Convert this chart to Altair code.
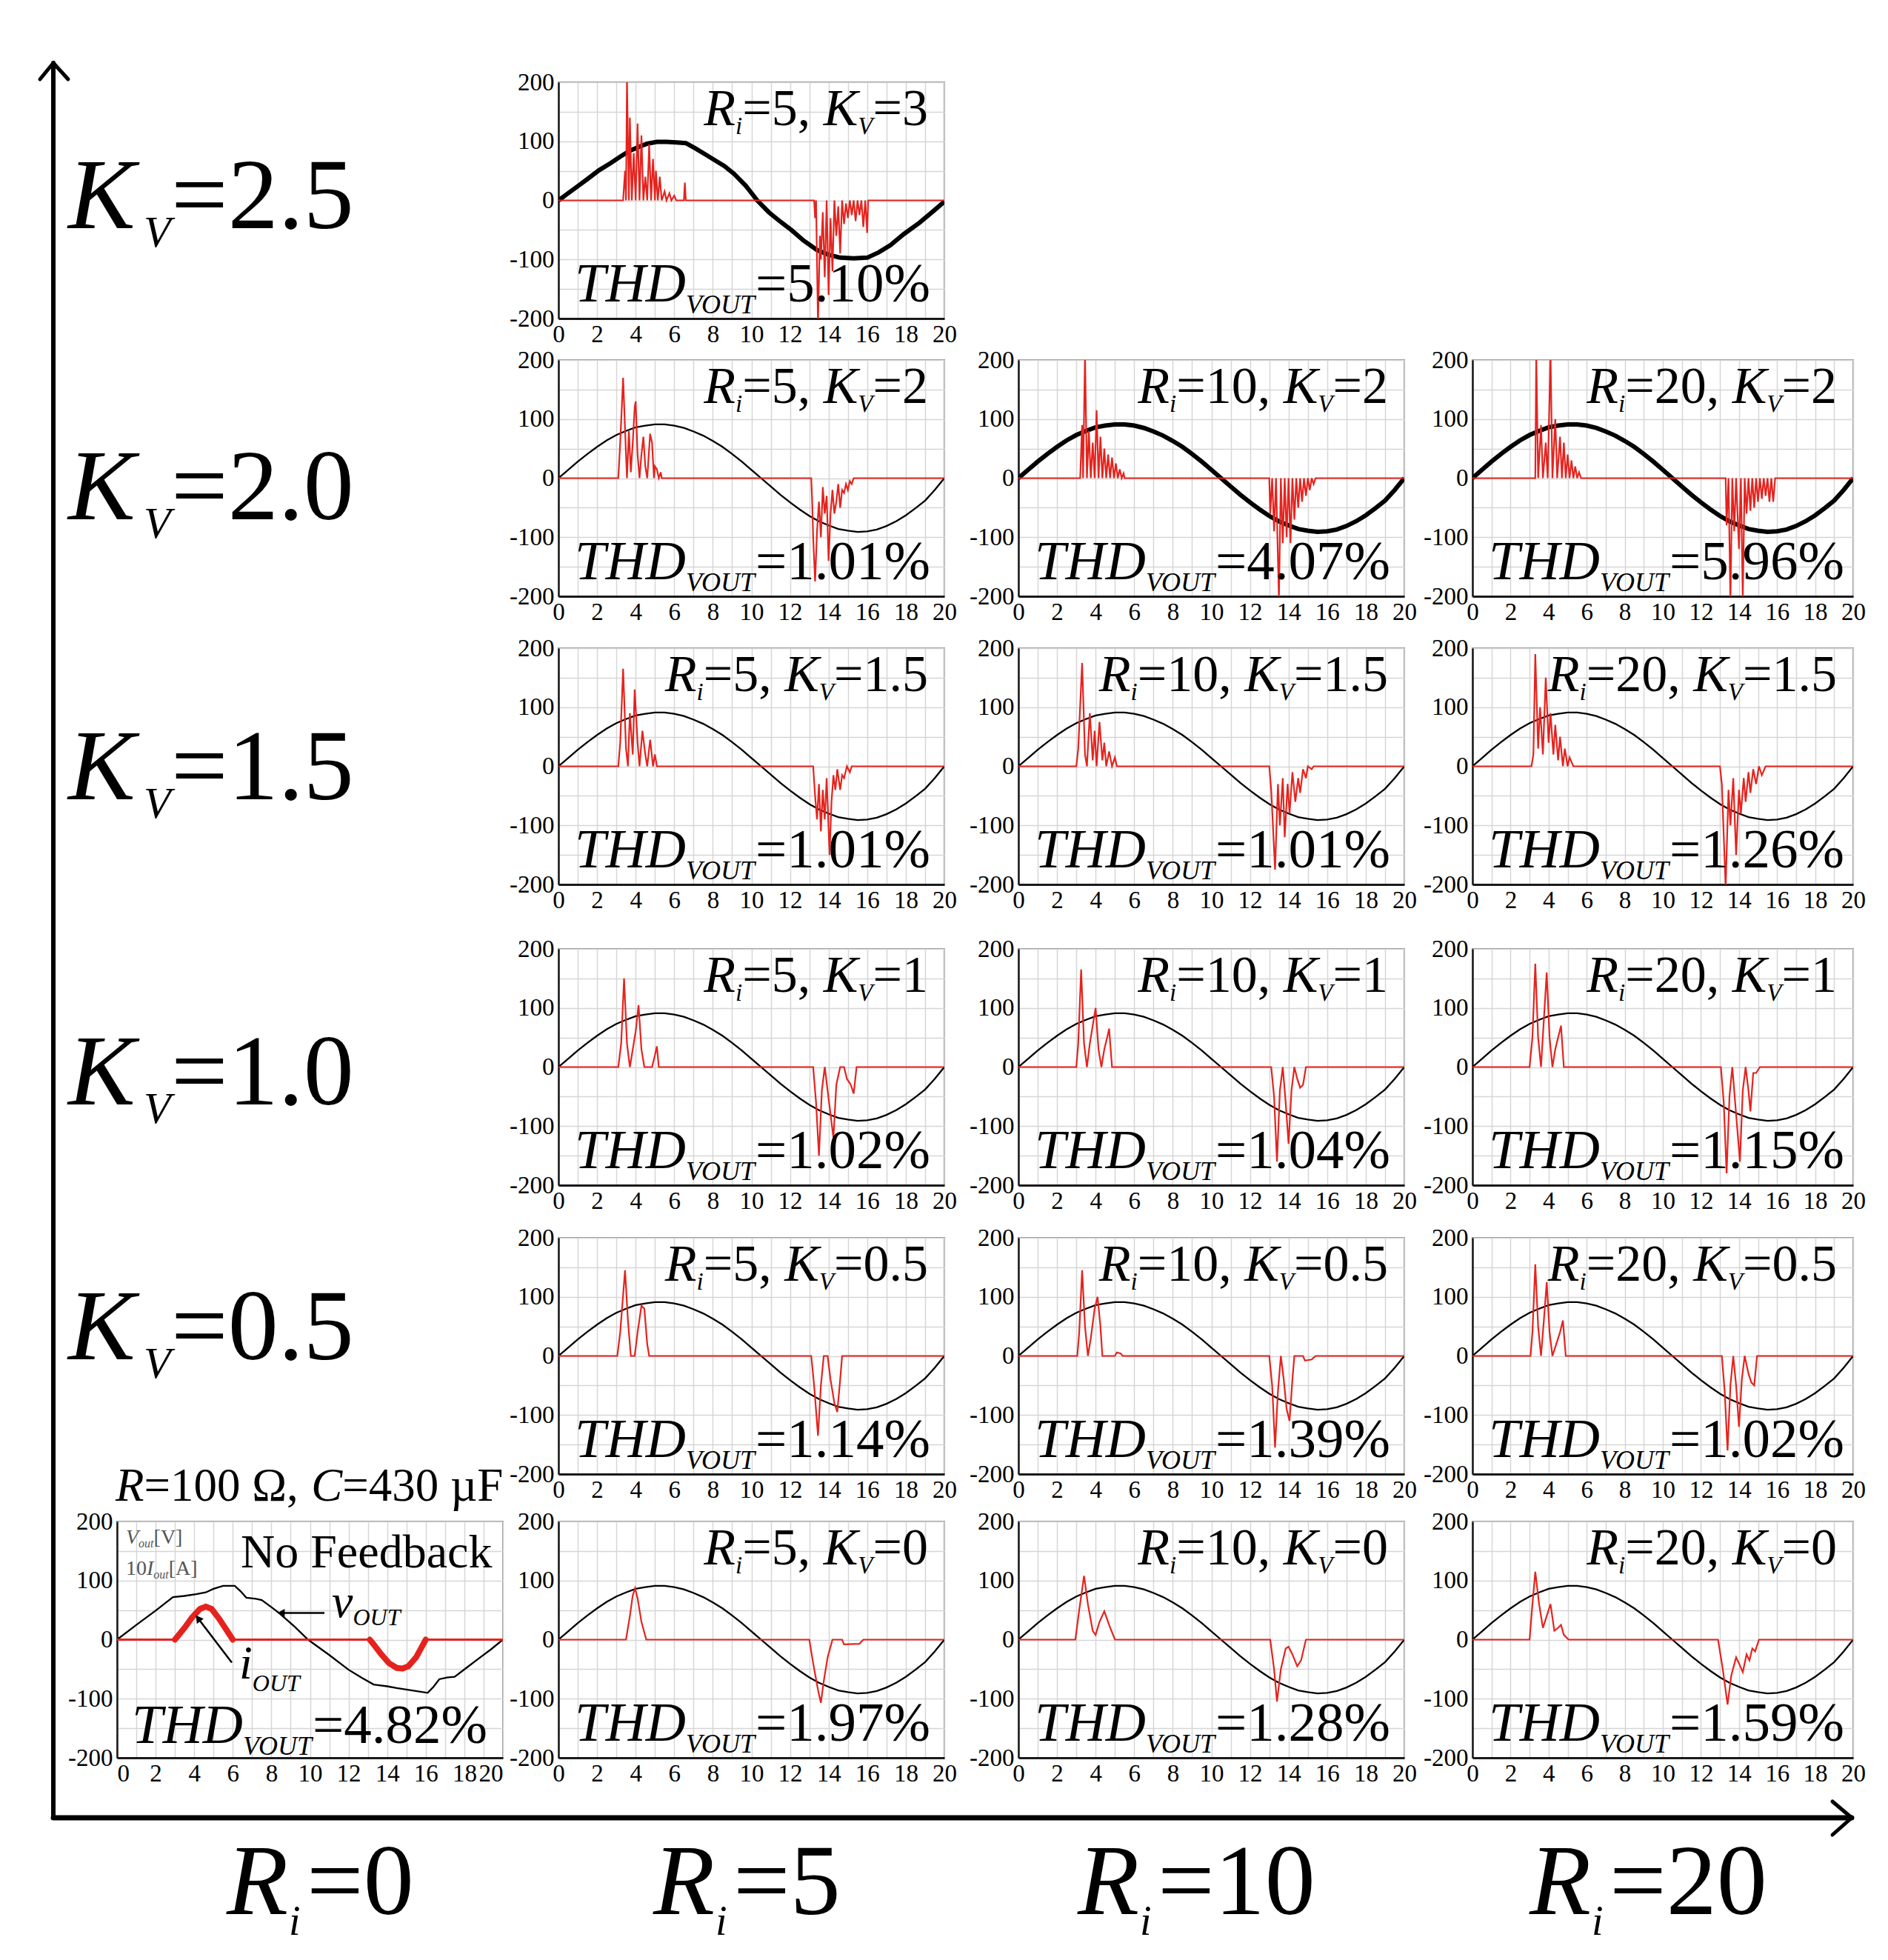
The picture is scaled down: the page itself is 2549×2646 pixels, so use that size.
import altair as alt
import pandas as pd

FONT = "Liberation Serif"
RED = "#e5231e"

# ---------------- data ----------------
T_GRID = [0, 0.5, 1, 1.5, 2, 2.5, 3, 3.5, 4, 4.5, 5, 5.5, 6, 6.5, 7, 7.5, 8, 8.5, 9, 9.5, 10,
          10.5, 11, 11.5, 12, 12.5, 13, 13.5, 14, 14.5, 15, 15.5, 16, 16.5, 17, 17.5, 18, 18.5,
          19, 19.5, 20]
VOUT_CLEAN = [0, 14, 28, 41, 53, 64, 73, 80, 86, 89, 91, 91, 89, 85, 79, 72, 63, 53, 41, 28, 14,
              0, -14, -28, -41, -53, -64, -73, -80, -86, -89, -91, -90, -87, -81, -73, -63, -51,
              -38, -20, 0]

VOUT_KV3 = [(0, 0), (0.5, 12), (1, 24), (1.5, 36), (2.1, 51), (2.7, 63), (3.2, 74), (3.7, 84),
            (4.2, 91), (4.6, 96), (5.1, 99), (5.6, 99), (6.1, 98), (6.6, 97), (7.1, 88), (7.6, 78),
            (8.1, 68), (8.6, 58), (9.1, 45), (9.7, 25), (10.3, 0), (10.9, -20), (11.5, -36),
            (12.1, -51), (12.7, -68), (13.4, -84), (14.0, -92), (14.6, -97), (15.3, -98),
            (16.0, -97), (16.6, -88), (17.2, -76), (17.9, -57), (18.7, -38), (19.4, -19), (20, -2)]

VOUT_NOFB = [(0, 0), (1, 25), (2, 49), (2.9, 72), (3.5, 74), (4.1, 77), (4.6, 80), (5.0, 86),
             (5.5, 91), (6.1, 91), (6.4, 82), (6.7, 71), (7.2, 69), (7.5, 67), (8.0, 55), (8.4, 45),
             (9.2, 22), (9.9, 0), (11.0, -26), (12.0, -51), (12.7, -65), (13.3, -76), (14.0, -79),
             (14.5, -82), (15.3, -86), (16.1, -90), (16.4, -80), (16.7, -67), (17.1, -64),
             (17.5, -63), (18.1, -48), (18.7, -33), (19.4, -16), (20, 0)]

IOUT_NOFB = [(0, 0), (3.0, 0), (3.2, 8), (3.5, 20), (3.9, 38), (4.3, 52), (4.6, 56), (4.9, 52),
             (5.3, 35), (5.7, 15), (6.0, 0), (13.1, 0), (13.3, -8), (13.7, -25), (14.1, -40),
             (14.5, -48), (14.8, -49), (15.1, -45), (15.5, -30), (15.8, -12), (16.0, 0), (20, 0)]

IOUT_R5_K3 = [(0, 0), (3.35, 0), (3.45, 50), (3.5, 0), (3.55, 205), (3.65, 0), (3.7, 140), (3.8, 0),
              (3.9, 80), (4.0, 0), (4.1, 130), (4.2, 0), (4.3, 110), (4.4, 0), (4.5, 40), (4.6, 0),
              (4.7, 95), (4.8, 0), (4.9, 70), (5.0, 0), (5.05, 50), (5.15, 0), (5.25, 40), (5.35, 0),
              (5.5, 15), (5.6, 0), (5.75, 12), (5.85, 0), (6.0, 8), (6.1, 0), (6.5, 0), (6.55, 30),
              (6.6, 0), (13.25, 0), (13.3, -30), (13.35, 0), (13.45, -210), (13.55, -60),
              (13.6, -100), (13.7, -20), (13.8, -130), (13.9, 0), (14.0, -160), (14.1, -30),
              (14.2, -120), (14.3, 0), (14.4, -60), (14.5, -10), (14.6, -90), (14.7, 0), (14.8, -40),
              (14.9, -5), (15.0, -30), (15.1, 0), (15.2, -25), (15.3, 0), (15.4, -35), (15.5, 0),
              (15.6, -25), (15.7, 0), (15.8, -45), (15.9, 0), (16.0, -55), (16.05, 0), (20, 0)]
IOUT_R5_K2 = [(0, 0), (3.1, 0), (3.2, 60), (3.35, 170), (3.5, 40), (3.55, 0), (3.65, 80), (3.75, 10),
              (3.85, 60), (3.95, 120), (4.0, 130), (4.1, 40), (4.2, 0), (4.3, 40), (4.4, 70),
              (4.5, 20), (4.6, 0), (4.7, 50), (4.75, 75), (4.85, 60), (4.95, 0), (5.0, 20),
              (5.1, 15), (5.2, 0), (5.3, 10), (5.35, 0), (13.1, 0), (13.15, -40), (13.2, -100),
              (13.3, -175), (13.4, -90), (13.5, -40), (13.6, -100), (13.7, -15), (13.8, -60),
              (13.9, -30), (14.0, -140), (14.1, -60), (14.2, -20), (14.3, -60), (14.4, -40),
              (14.5, -10), (14.6, -50), (14.7, -20), (14.8, -25), (14.9, -10), (15.0, -20),
              (15.1, -5), (15.2, -10), (15.3, 0), (20, 0)]
IOUT_R10_K2 = [(0, 0), (3.2, 0), (3.3, 90), (3.35, 0), (3.45, 210), (3.55, 0), (3.65, 80), (3.75, 0),
               (3.85, 60), (3.95, 0), (4.05, 115), (4.15, 0), (4.25, 70), (4.35, 0), (4.45, 50),
               (4.55, 0), (4.65, 40), (4.75, 0), (4.85, 35), (4.95, 0), (5.05, 25), (5.15, 0),
               (5.25, 15), (5.35, 0), (5.45, 8), (5.5, 0), (13.0, 0), (13.05, -60), (13.15, 0),
               (13.25, -90), (13.35, 0), (13.5, -205), (13.6, 0), (13.7, -110), (13.8, 0),
               (13.9, -100), (14.0, 0), (14.1, -110), (14.2, 0), (14.3, -70), (14.4, 0), (14.5, -50),
               (14.6, 0), (14.7, -40), (14.8, 0), (14.9, -30), (15.0, 0), (15.1, -20), (15.2, 0),
               (15.3, -10), (15.4, 0), (20, 0)]
IOUT_R20_K2 = [(0, 0), (3.3, 0), (3.35, 210), (3.45, 0), (3.6, 90), (3.7, 0), (3.85, 60), (3.95, 0),
               (4.1, 210), (4.2, 0), (4.35, 100), (4.45, 0), (4.6, 70), (4.7, 0), (4.8, 60), (4.9, 0),
               (5.0, 40), (5.1, 0), (5.2, 30), (5.3, 0), (5.4, 20), (5.5, 0), (5.6, 10), (5.7, 0),
               (13.3, 0), (13.35, -80), (13.45, 0), (13.55, -210), (13.65, 0), (13.75, -90),
               (13.85, 0), (14.0, -120), (14.1, 0), (14.2, -205), (14.3, 0), (14.4, -60), (14.5, 0),
               (14.6, -55), (14.7, 0), (14.8, -50), (14.9, 0), (15.0, -40), (15.1, 0), (15.2, -35),
               (15.3, 0), (15.4, -30), (15.5, 0), (15.6, -40), (15.7, 0), (15.8, -40), (15.9, 0),
               (20, 0)]
IOUT_R5_K15 = [(0, 0), (3.1, 0), (3.2, 40), (3.35, 165), (3.5, 30), (3.6, 0), (3.7, 90), (3.85, 20),
               (3.95, 130), (4.1, 40), (4.2, 0), (4.35, 60), (4.5, 20), (4.6, 0), (4.75, 45),
               (4.9, 0), (5.0, 20), (5.1, 0), (13.2, 0), (13.3, -50), (13.4, -90), (13.5, -30),
               (13.6, -110), (13.7, -40), (13.8, -90), (13.9, -20), (14.05, -150), (14.15, -60),
               (14.25, -15), (14.35, -40), (14.45, -5), (14.6, -40), (14.7, -15), (14.8, -20),
               (14.95, 0), (15.1, -10), (15.2, 0), (20, 0)]
IOUT_R10_K15 = [(0, 0), (3.0, 0), (3.1, 30), (3.3, 175), (3.45, 20), (3.55, 0), (3.7, 90), (3.85, 10),
                (3.95, 60), (4.05, 0), (4.2, 75), (4.35, 10), (4.45, 40), (4.55, 0), (4.7, 25),
                (4.85, 0), (5.0, 15), (5.1, 0), (13.0, 0), (13.1, -40), (13.3, -175), (13.45, -30),
                (13.55, -100), (13.7, -20), (13.8, -120), (13.95, -30), (14.05, -80), (14.2, -10),
                (14.35, -60), (14.5, -20), (14.6, -45), (14.75, -5), (14.9, -20), (15.0, 0),
                (15.2, -5), (15.3, 0), (20, 0)]
IOUT_R20_K15 = [(0, 0), (3.1, 0), (3.2, 20), (3.3, 190), (3.45, 30), (3.55, 100), (3.7, 20),
                (3.85, 150), (4.0, 40), (4.1, 90), (4.25, 20), (4.35, 70), (4.5, 10), (4.6, 50),
                (4.75, 0), (4.85, 30), (5.0, 0), (5.1, 15), (5.3, 0), (13.0, 0), (13.1, -30),
                (13.3, -205), (13.45, -40), (13.55, -100), (13.7, -20), (13.85, -150), (14.0, -40),
                (14.1, -80), (14.25, -20), (14.35, -60), (14.5, -10), (14.6, -45), (14.75, -5),
                (14.9, -30), (15.05, 0), (15.2, -15), (15.4, 0), (20, 0)]
IOUT_R5_K1 = [(0, 0), (3.1, 0), (3.25, 40), (3.4, 150), (3.55, 40), (3.7, 0), (3.85, 30), (4.0, 60),
              (4.15, 105), (4.3, 30), (4.45, 0), (4.85, 0), (5.0, 20), (5.1, 35), (5.2, 0),
              (13.2, 0), (13.35, -60), (13.5, -150), (13.65, -40), (13.8, 0), (13.95, -40),
              (14.1, -80), (14.25, -120), (14.4, -30), (14.6, 0), (14.8, 0), (14.95, -20),
              (15.15, -30), (15.3, -45), (15.45, 0), (20, 0)]
IOUT_R10_K1 = [(0, 0), (3.0, 0), (3.1, 40), (3.25, 165), (3.4, 40), (3.55, 0), (3.7, 40), (3.85, 70),
               (4.0, 100), (4.15, 30), (4.3, 0), (4.45, 30), (4.6, 50), (4.7, 65), (4.85, 0),
               (13.1, 0), (13.25, -50), (13.4, -160), (13.55, -40), (13.7, 0), (13.85, -60),
               (14.0, -130), (14.15, -40), (14.3, 0), (14.45, -20), (14.6, -35), (14.75, -30),
               (14.9, 0), (20, 0)]
IOUT_R20_K1 = [(0, 0), (3.0, 0), (3.15, 50), (3.3, 175), (3.45, 50), (3.6, 0), (3.75, 80), (3.9, 160),
               (4.05, 50), (4.2, 0), (4.35, 30), (4.5, 50), (4.65, 70), (4.8, 0), (13.05, 0),
               (13.2, -60), (13.35, -180), (13.5, -50), (13.65, 0), (13.8, -60), (14.05, -160),
               (14.2, -40), (14.35, 0), (14.5, -40), (14.6, -75), (14.75, -10), (14.9, -10),
               (15.1, 0), (20, 0)]
IOUT_R5_K05 = [(0, 0), (3.05, 0), (3.2, 40), (3.45, 145), (3.6, 60), (3.75, 0), (3.95, 0), (4.1, 40),
               (4.3, 85), (4.45, 80), (4.6, 20), (4.7, 0), (13.1, 0), (13.25, -50), (13.45, -135),
               (13.6, -50), (13.75, 0), (13.95, 0), (14.1, -40), (14.3, -80), (14.45, -95),
               (14.6, -40), (14.7, 0), (20, 0)]
IOUT_R10_K05 = [(0, 0), (3.05, 0), (3.15, 40), (3.3, 145), (3.45, 50), (3.6, 0), (3.75, 30),
                (3.95, 80), (4.1, 100), (4.25, 50), (4.35, 0), (5.0, 0), (5.1, 6), (5.3, 4), (5.4, 0),
                (13.0, 0), (13.15, -50), (13.3, -155), (13.45, -60), (13.6, 0), (13.75, -40),
                (13.9, -90), (14.05, -110), (14.2, -40), (14.3, 0), (14.75, 0), (14.85, -8),
                (15.2, -6), (15.4, 0), (20, 0)]
IOUT_R20_K05 = [(0, 0), (3.05, 0), (3.15, 40), (3.3, 155), (3.45, 50), (3.6, 0), (3.75, 60),
                (3.9, 125), (4.05, 40), (4.2, 0), (4.4, 20), (4.6, 40), (4.75, 60), (4.9, 0),
                (13.1, 0), (13.25, -60), (13.4, -160), (13.55, -50), (13.7, 0), (13.85, -50),
                (14.0, -120), (14.15, -40), (14.3, 0), (14.5, -30), (14.65, -45), (14.8, -50),
                (14.95, 0), (20, 0)]
IOUT_R5_K0 = [(0, 0), (3.5, 0), (3.7, 40), (3.85, 75), (3.97, 87), (4.1, 70), (4.3, 30), (4.55, 0),
              (13.0, 0), (13.2, -40), (13.45, -85), (13.6, -107), (13.75, -70), (13.95, -30),
              (14.2, 0), (14.7, 0), (14.8, -8), (15.6, -7), (15.8, 0), (20, 0)]
IOUT_R10_K0 = [(0, 0), (2.95, 0), (3.15, 50), (3.4, 108), (3.6, 60), (3.85, 15), (4.0, 8), (4.2, 30),
               (4.45, 48), (4.7, 25), (5.0, 0), (13.05, 0), (13.25, -50), (13.4, -105), (13.6, -50),
               (13.85, -15), (14.0, -12), (14.2, -25), (14.45, -45), (14.65, -35), (14.9, 0),
               (20, 0)]
IOUT_R20_K0 = [(0, 0), (3.0, 0), (3.15, 60), (3.3, 115), (3.5, 60), (3.7, 20), (3.9, 40), (4.1, 60),
               (4.3, 15), (4.5, 20), (4.65, 25), (4.8, 8), (5.05, 0), (12.9, 0), (13.15, -50),
               (13.4, -110), (13.6, -60), (13.85, -30), (14.0, -40), (14.2, -55), (14.4, -25),
               (14.55, -35), (14.7, -15), (14.85, -20), (15.05, 0), (20, 0)]

# annotation arrows in the no-feedback panel (data units)
VOUT_ARROW = [(10.75, 45), (8.5, 45)]
IOUT_ARROW = [(5.95, -39), (4.2, 36)]

KV_LABELS = ["2.5", "2.0", "1.5", "1.0", "0.5"]
RI_LABELS = ["0", "5", "10", "20"]

# (row, col, Ri, Kv, THD, vout, thick line, iout)
PANELS = [
    (0, 1, "5", "3", "5.10%", "kv3", True, IOUT_R5_K3),
    (1, 1, "5", "2", "1.01%", "clean", False, IOUT_R5_K2),
    (1, 2, "10", "2", "4.07%", "clean", True, IOUT_R10_K2),
    (1, 3, "20", "2", "5.96%", "clean", True, IOUT_R20_K2),
    (2, 1, "5", "1.5", "1.01%", "clean", False, IOUT_R5_K15),
    (2, 2, "10", "1.5", "1.01%", "clean", False, IOUT_R10_K15),
    (2, 3, "20", "1.5", "1.26%", "clean", False, IOUT_R20_K15),
    (3, 1, "5", "1", "1.02%", "clean", False, IOUT_R5_K1),
    (3, 2, "10", "1", "1.04%", "clean", False, IOUT_R10_K1),
    (3, 3, "20", "1", "1.15%", "clean", False, IOUT_R20_K1),
    (4, 1, "5", "0.5", "1.14%", "clean", False, IOUT_R5_K05),
    (4, 2, "10", "0.5", "1.39%", "clean", False, IOUT_R10_K05),
    (4, 3, "20", "0.5", "1.02%", "clean", False, IOUT_R20_K05),
    (5, 1, "5", "0", "1.97%", "clean", False, IOUT_R5_K0),
    (5, 2, "10", "0", "1.28%", "clean", False, IOUT_R10_K0),
    (5, 3, "20", "0", "1.59%", "clean", False, IOUT_R20_K0),
]
NOFB_THD = "4.82%"

# ---------------- layout ----------------
COL_W = [536, 561, 553, 514]
PANEL_W = [521, 521, 521, 514]
PANEL_H = 319
ROW_GAP = 50
COL_GAP = 60
ROW_H = [325, 339, 356, 340, 333, 319, 170]
KV_BASE = [197, 215, 204, 210, 164]
KV_X = -66
RI_X = [148, 128, 80, 77]
RI_BASE = 161

REG = {"=": 564, ",": 250, " ": 250, ".": 250, "%": 833, "\u03a9": 768, "\u00b5": 500, "F": 556,
       "[": 333, "]": 333, "V": 722, "A": 722, "N": 722, "o": 500, "e": 444, "d": 500, "b": 500,
       "a": 444, "c": 444, "k": 500}
ITA = {"R": 611, "K": 667, "V": 611, "i": 278, "T": 556, "H": 722, "D": 722, "O": 722, "U": 722,
       "C": 667, "v": 444, "I": 333, "o": 500, "u": 500, "t": 278}


def tw(text, italic):
    table = ITA if italic else REG
    return sum(table.get(c, 500) for c in text)


def layout_runs(runs, x0, y0, anchor="left"):
    widths = [tw(r[0], r[1]) * r[2] / 1000.0 for r in runs]
    x = x0 - sum(widths) if anchor == "right" else x0
    out = []
    for r, w in zip(runs, widths):
        out.append({"px": x, "py": y0 + r[3], "txt": r[0], "it": r[1], "fs": r[2], "col": r[4]})
        x += w
    return out


def make_ax(flush=False):
    return alt.Axis(values=list(range(0, 21)),
                    labelExpr="datum.value % 2 == 0 ? '' + datum.value : ''",
                    grid=True, gridColor="#d6d6d6", gridWidth=1.5, ticks=False,
                    domainColor="#1a1a1a", domainWidth=3, labelFont=FONT, labelFontSize=33,
                    labelColor="black", labelPadding=5, labelFlush=flush, labelOverlap=False,
                    title=None)


AX = make_ax(False)
AX0 = make_ax(True)
AY = alt.Axis(values=list(range(-200, 201, 50)),
              labelExpr="datum.value % 100 == 0 ? '' + datum.value : ''",
              grid=True, gridColor="#d6d6d6", gridWidth=1.5, ticks=False,
              domainColor="#1a1a1a", domainWidth=2.5, labelFont=FONT, labelFontSize=33,
              labelColor="black", labelPadding=6, labelFlush=False, labelOverlap=False, title=None)
SX = alt.Scale(domain=[0, 20], nice=False, zero=False)
SY = alt.Scale(domain=[-200, 200], nice=False)


def enc_xy(order=True, ax=AX):
    d = dict(x=alt.X("t:Q", scale=SX, axis=ax), y=alt.Y("v:Q", scale=SY, axis=AY))
    if order:
        d["order"] = alt.Order("k:Q")
    return d


def text_layers(rows, W=None, ax=AX):
    df = pd.DataFrame(rows)
    if W is not None:
        df["t"] = df["px"] / W * 20.0
        df["v"] = 200.0 - df["py"] / PANEL_H * 400.0
    layers = []
    for italic in (True, False):
        sub = df[df["it"] == italic].drop(columns=["it"])
        if len(sub) == 0:
            continue
        base = alt.Chart(sub).mark_text(font=FONT, fontStyle="italic" if italic else "normal",
                                        align="left", baseline="alphabetic")
        if W is None:
            pos = dict(x=alt.X("px:Q", scale=None, axis=None), y=alt.Y("py:Q", scale=None, axis=None))
        else:
            # same axis definition as the curves, so the shared axis is kept
            pos = enc_xy(order=False, ax=ax)
        layers.append(base.encode(text="txt:N",
                                  size=alt.Size("fs:Q", scale=None, legend=None),
                                  color=alt.Color("col:N", scale=None, legend=None), **pos))
    return layers


def pts_df(pts):
    return pd.DataFrame({"t": [p[0] for p in pts], "v": [p[1] for p in pts],
                         "k": list(range(len(pts)))})


VIEW = alt.ViewBackground(stroke="#8f8f8f", strokeWidth=2)
NOVIEW = alt.ViewBackground(strokeOpacity=0)


def thd_runs(val):
    return [("THD", True, 75, 0, "black"), ("VOUT", True, 36, 16, "black"),
            ("=" + val, False, 75, 0, "black")]


def make_panel(ri, kv, thd, vkey, thick, iout, W):
    if vkey == "kv3":
        vdf = pts_df(VOUT_KV3)
    else:
        vdf = pts_df(list(zip(T_GRID, VOUT_CLEAN)))
    black = alt.Chart(vdf).mark_line(color="black", strokeWidth=6 if thick else 2.3,
                                      clip=True).encode(**enc_xy())
    red = alt.Chart(pts_df(iout)).mark_line(color=RED, strokeWidth=2.2, clip=True).encode(**enc_xy())
    title = [("R", True, 70, 0, "black"), ("i", True, 33, 12, "black"),
             ("=" + ri + ", ", False, 70, 0, "black"), ("K", True, 70, 0, "black"),
             ("V", True, 33, 12, "black"), ("=" + kv, False, 70, 0, "black")]
    rows = layout_runs(title, W - 22, 58, "right") + layout_runs(thd_runs(thd), 22, 296)
    return alt.layer(black, red, *text_layers(rows, W)).properties(width=W, height=PANEL_H, view=VIEW)


def make_nofb(W):
    e = lambda **kw: enc_xy(ax=AX0, **kw)
    black = alt.Chart(pts_df(VOUT_NOFB)).mark_line(color="black", strokeWidth=2.3,
                                                   clip=True).encode(**e())
    idf = pts_df(IOUT_NOFB)
    red = alt.Chart(idf).mark_line(color=RED, strokeWidth=3, clip=True).encode(**e())
    pulse = idf[((idf["t"] >= 3.0) & (idf["t"] <= 6.0)) | ((idf["t"] >= 13.1) & (idf["t"] <= 16.0))].copy()
    pulse["seg"] = (pulse["t"] > 10).astype(int)
    thickred = alt.Chart(pulse).mark_line(color=RED, strokeWidth=8, strokeCap="round",
                                          strokeJoin="round", clip=True).encode(
        detail="seg:N", **e())
    arrows = []
    for arr, shape, ang in ((VOUT_ARROW, "triangle-left", 0), (IOUT_ARROW, "triangle-up", 323)):
        adf = pts_df(arr)
        arrows.append(alt.Chart(adf).mark_line(color="black", strokeWidth=2.5).encode(**e()))
        arrows.append(alt.Chart(adf.iloc[[1]]).mark_point(shape=shape, angle=ang, size=130,
                                                          filled=True, color="black",
                                                          opacity=1).encode(**e()))
    rows = []
    rows += layout_runs([("R", True, 63, 0, "black"), ("=100 \u03a9, ", False, 63, 0, "black"),
                         ("C", True, 63, 0, "black"), ("=430 \u00b5F", False, 63, 0, "black")],
                        -2, -28)
    rows += layout_runs([("No Feedback", False, 64, 0, "black")], 167, 62)
    rows += layout_runs([("V", True, 28, 0, "#555555"), ("out", True, 16, 5, "#555555"),
                         ("[V]", False, 28, 0, "#555555")], 12, 30)
    rows += layout_runs([("10", False, 28, 0, "#555555"), ("I", True, 28, 0, "#555555"),
                         ("out", True, 16, 5, "#555555"), ("[A]", False, 28, 0, "#555555")], 12, 72)
    rows += layout_runs([("v", True, 64, 0, "black"), ("OUT", True, 32, 11, "black")], 290, 129)
    rows += layout_runs([("i", True, 64, 0, "black"), ("OUT", True, 32, 17, "black")], 165, 212)
    rows += layout_runs(thd_runs(NOFB_THD), 20, 299)
    return alt.layer(black, red, thickred, *arrows, *text_layers(rows, W, AX0)).properties(
        width=W, height=PANEL_H, view=VIEW)


DUMMY = pd.DataFrame({"d": [0]})


def rule(x1, y1, x2, y2, w):
    return alt.Chart(DUMMY).mark_rule(color="black", strokeWidth=w, strokeCap="round").encode(
        x=alt.value(x1), y=alt.value(y1), x2=alt.value(x2), y2=alt.value(y2))


def kv_cell(i):
    base = KV_BASE[i]
    rows = [{"px": KV_X, "py": base, "txt": "K", "it": True, "fs": 136, "col": "black"},
            {"px": KV_X + 102, "py": base + 25, "txt": "V", "it": True, "fs": 60, "col": "black"},
            {"px": KV_X + 139, "py": base, "txt": "=" + KV_LABELS[i], "it": False, "fs": 136,
             "col": "black"}]
    layers = text_layers(rows)
    if i == 0:
        # the two big axis arrows of the figure
        xa, ytop = -86, -26
        ybot = sum(ROW_H[:5]) + 5 * ROW_GAP + PANEL_H + 81
        xend = sum(COL_W[:3]) + 3 * COL_GAP + 512
        layers += [rule(xa, ytop, xa, ybot, 6), rule(xa, ybot, xend, ybot, 7),
                   rule(xa, ytop, xa - 18, ytop + 22, 5), rule(xa, ytop, xa + 20, ytop + 22, 5),
                   rule(xend, ybot, xend - 26, ybot - 22, 5), rule(xend, ybot, xend - 26, ybot + 23, 5)]
    return alt.layer(*layers).properties(width=COL_W[0], height=ROW_H[i], view=NOVIEW)


def ri_cell(j):
    x0 = RI_X[j]
    rows = [{"px": x0, "py": RI_BASE, "txt": "R", "it": True, "fs": 136, "col": "black"},
            {"px": x0 + 84, "py": RI_BASE + 28, "txt": "i", "it": True, "fs": 56, "col": "black"},
            {"px": x0 + 108, "py": RI_BASE, "txt": "=" + RI_LABELS[j], "it": False, "fs": 136,
             "col": "black"}]
    return alt.layer(*text_layers(rows)).properties(width=COL_W[j], height=ROW_H[6], view=NOVIEW)


def blank():
    return alt.Chart(DUMMY).mark_point(opacity=0).encode(
        x=alt.value(0), y=alt.value(0)).properties(width=10, height=10, view=NOVIEW)


grid = {}
for (r, c, ri, kv, thd, vkey, thick, iout) in PANELS:
    grid[(r, c)] = make_panel(ri, kv, thd, vkey, thick, iout, PANEL_W[c])
for i in range(5):
    grid[(i, 0)] = kv_cell(i)
grid[(5, 0)] = make_nofb(PANEL_W[0])
for j in range(4):
    grid[(6, j)] = ri_cell(j)

cells = []
for r in range(7):
    for c in range(4):
        cells.append(grid.get((r, c), blank()))

chart = alt.concat(*cells, columns=4, spacing={"row": ROW_GAP, "column": COL_GAP}, align="each",
                   bounds="flush").properties(
    padding={"left": 43, "top": 74, "right": 10, "bottom": 10}
).configure(font=FONT)

chart.save("out.html", embed_options={"renderer": "svg", "actions": False})
